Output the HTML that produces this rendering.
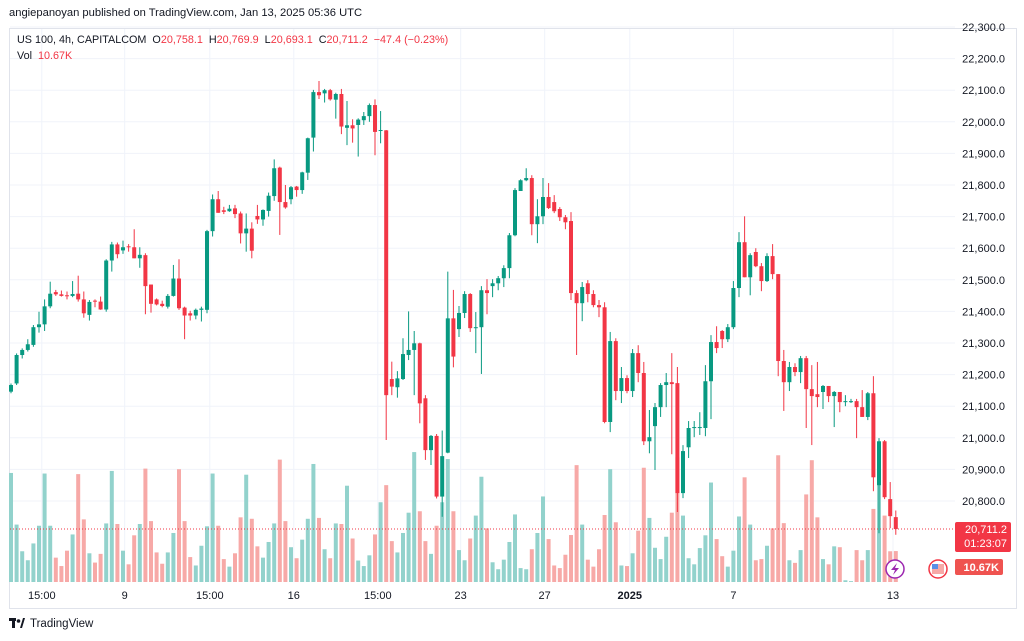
<!DOCTYPE html>
<html><head><meta charset="utf-8"><style>
html,body{margin:0;padding:0;background:#fff;}
body{width:1024px;height:641px;overflow:hidden;position:relative;font-family:"Liberation Sans",sans-serif;}
.t{position:absolute;white-space:nowrap;}
</style></head><body>
<div class="t" style="left:9px;top:7px;font-size:11.2px;color:#131722;">angiepanoyan published on TradingView.com, Jan 13, 2025 05:36 UTC</div>
<svg id="chart" width="1024" height="641" style="position:absolute;left:0;top:0;" xmlns="http://www.w3.org/2000/svg"></svg>
<div class="t" style="left:17px;top:34px;font-size:10.8px;color:#131722;">US 100, 4h, CAPITALCOM&nbsp;&nbsp;O<span style="color:#f23645">20,758.1</span>&nbsp;&nbsp;H<span style="color:#f23645">20,769.9</span>&nbsp;&nbsp;L<span style="color:#f23645">20,693.1</span>&nbsp;&nbsp;C<span style="color:#f23645">20,711.2</span>&nbsp;&nbsp;<span style="color:#f23645">−47.4 (−0.23%)</span></div>
<div class="t" style="left:17px;top:50px;font-size:10.8px;color:#131722;">Vol&nbsp;&nbsp;<span style="color:#f23645">10.67K</span></div>
<div class="t" style="left:9px;top:618px;font-size:11.5px;color:#131722;"><svg width="16" height="10" style="vertical-align:-1px;margin-right:5px"><rect x="0" y="0" width="7" height="3" fill="#131722"/><rect x="3" y="0" width="3" height="10" fill="#131722"/><circle cx="9.5" cy="3" r="1.8" fill="#131722"/><polygon points="11,10 14,0 16,0 13,10" fill="#131722"/></svg>TradingView</div>
<script>
const opens=[21146,21172,21262,21278,21294,21350,21359,21416,21461,21454,21451,21449,21456,21438,21389,21434,21431,21406,21561,21612,21593,21606,21603,21568,21578,21485,21438,21424,21415,21449,21504,21412,21394,21387,21405,21405,21654,21755,21720,21717,21726,21710,21647,21662,21702,21691,21718,21765,21855,21746,21755,21795,21784,21839,21950,22094,22090,22100,22070,22088,21981,21989,21990,22005,22018,22053,21972,21973,21186,21160,21186,21262,21278,21299,21125,20961,21006,20814,20953,21378,21344,21395,21455,21347,21350,21467,21480,21489,21505,21537,21641,21781,21815,21822,21676,21701,21762,21746,21724,21698,21686,21458,21426,21489,21455,21420,21413,21050,21306,21148,21189,21148,21268,21205,20989,21037,21097,21167,21176,21173,20825,20970,21031,21031,21031,21179,21303,21338,21312,21350,21474,21619,21508,21588,21543,21496,21575,21518,21243,21176,21224,21208,21252,21154,21138,21145,21164,21132,21145,21113,21113,21116,21097,21066,21141,20850,20989,20806,20749];
const highs=[21172,21267,21283,21312,21357,21399,21438,21494,21468,21466,21463,21496,21513,21463,21436,21438,21447,21565,21620,21618,21624,21613,21660,21603,21584,21485,21441,21434,21455,21547,21565,21415,21402,21409,21415,21658,21770,21781,21731,21737,21737,21716,21710,21682,21737,21723,21776,21881,21858,21800,21797,21797,21842,21950,22101,22129,22104,22104,22092,22104,22066,22008,22011,22031,22058,22071,22034,21974,21241,21211,21315,21400,21338,21301,21135,21009,21012,21023,21526,21468,21417,21464,21458,21398,21480,21502,21502,21512,21546,21648,21790,21818,21853,21831,21755,21822,21806,21768,21730,21705,21714,21467,21493,21499,21467,21436,21429,21335,21315,21224,21198,21281,21293,21240,21088,21110,21173,21205,21268,21224,20977,21053,21053,21081,21230,21325,21353,21341,21360,21496,21651,21701,21584,21600,21553,21584,21613,21518,21278,21240,21236,21259,21259,21230,21240,21167,21164,21148,21145,21135,21123,21123,21151,21145,21195,20999,20993,20860,20769.9];
const lows=[21141,21167,21251,21273,21288,21333,21338,21410,21449,21447,21438,21445,21431,21380,21371,21413,21405,21399,21526,21568,21582,21589,21568,21538,21391,21396,21419,21413,21409,21447,21405,21312,21371,21375,21368,21394,21637,21712,21708,21715,21695,21615,21589,21568,21677,21671,21700,21750,21642,21725,21739,21763,21772,21816,21906,22072,22061,22067,22010,21961,21926,21934,21890,21990,22000,21894,21932,20993,21135,21127,21183,21246,21135,21046,20930,20914,20808,20750,20951,21223,21319,21379,21335,21268,21202,21391,21445,21467,21477,21505,21638,21781,21812,21641,21616,21676,21724,21711,21686,21660,21436,21262,21369,21429,21413,21382,21046,21018,21119,21110,21141,21129,21176,20977,20951,20898,21066,21097,20948,20765,20809,20936,21002,21009,21005,21059,21268,21284,21303,21344,21445,21508,21451,21540,21464,21493,21502,21195,21085,21148,21195,21173,21031,20977,21097,21091,21113,21034,21081,21100,21110,20999,21066,21056,20831,20698,20806,20714,20693.1];
const closes=[21167,21262,21278,21296,21350,21359,21416,21456,21454,21449,21450,21455,21438,21394,21430,21431,21406,21561,21612,21581,21603,21604,21568,21579,21480,21424,21422,21417,21449,21504,21410,21387,21387,21405,21409,21654,21755,21712,21715,21725,21708,21647,21662,21592,21691,21721,21766,21853,21746,21729,21793,21784,21840,21948,22094,22084,22100,22071,22088,21985,21989,21979,22007,22018,22053,21968,21974,21135,21162,21188,21265,21278,21299,21109,20961,21006,20814,20942,21378,21257,21395,21455,21347,21350,21467,21458,21489,21505,21537,21641,21784,21815,21822,21676,21701,21762,21727,21717,21698,21682,21458,21426,21477,21455,21420,21413,21050,21306,21148,21189,21148,21268,21205,20989,21002,21097,21167,21176,21170,20825,20958,21031,21034,21034,21179,21303,21284,21312,21350,21474,21619,21508,21578,21543,21496,21575,21518,21243,21176,21224,21208,21252,21154,21132,21129,21164,21132,21145,21113,21116,21116,21097,21066,21141,20875,20989,20812,20752,20711.2];
const volumes=[37.6,19.8,10.6,7.5,13.3,19.4,37.4,19.4,8.4,5.5,10.8,16.4,37.2,21.6,9.9,6.7,9.7,20.2,38.3,20,10.8,6.1,16.1,20,39.1,21,10.2,6.3,10.2,16.9,38.9,21,8.6,5.7,12.5,19.2,37.4,19.4,7.9,5.3,9.9,22.3,37,21.8,12.3,8.4,13.8,20.2,42.2,21,12,8.2,14.6,21.8,40.7,22.1,11.3,8.2,20.2,20,33.2,15,7.4,5.5,9.2,16.4,27.5,33.4,14.1,10.2,16.9,23.9,44.8,24.4,14.1,9.7,19.4,27.5,42.4,24.4,11,7.5,15,22.9,36.3,18.5,6.8,4.4,7.7,13.8,23.3,4.8,4.4,11.3,16.9,29.5,14.8,5.7,4.8,9.4,16.2,40.3,19.8,7.7,5.3,11.3,23.1,38.9,20.6,5.7,5.5,9.9,17.7,39.4,22.1,11.8,7.9,15.6,23.9,43,22.9,8.2,6.1,11.7,16.1,34.3,14.8,8.9,5.3,10.8,22.6,36.1,19.8,7.5,7.9,12.5,18.5,43.7,20.3,7.5,6.6,11,30.2,42,22.3,7.9,6.1,12.3,12,0.6,0.3,11,7.5,11,25.2,35,22.9,10.6,10.67];
const priceTicks=[22300,22200,22100,22000,21900,21800,21700,21600,21500,21400,21300,21200,21100,21000,20900,20800];
const timeLabels=["15:00","9","15:00","16","15:00","23","27","2025","7","13"];
const timeIdx=[5.5,20.3,35.5,50.5,65.5,80.3,95.3,110.5,129,157.5];

const svg=document.getElementById('chart');
const NS='http://www.w3.org/2000/svg';
const X0=11,STEP=5.6,PLOT_R=955;
const xOf=i=>X0+i*STEP;
const yOf=p=>27+(22300-p)*0.316;
const VB=582,VK=2.9;
function mk(tag,attrs,parent){const e=document.createElementNS(NS,tag);for(const k in attrs)e.setAttribute(k,attrs[k]);(parent||svg).appendChild(e);return e;}
function txt(s,attrs){const e=mk('text',attrs);e.textContent=s;return e;}

const frame=mk('rect',{x:9.5,y:28.5,width:1007,height:580,fill:'none',stroke:'#e0e3eb'});


priceTicks.forEach(p=>{
  const g=mk('line',{x1:10,x2:PLOT_R,y1:yOf(p),y2:yOf(p),stroke:'#f0f3fa'});
  
  
  const t=txt(p.toLocaleString('en-US',{minimumFractionDigits:1}),{x:1005,y:yOf(p)+4,'font-size':11,'text-anchor':'end',fill:'#131722','font-family':'Liberation Sans, sans-serif'});
  
  
});
timeIdx.forEach((ti,k)=>{
  const x=xOf(ti);
  const g=mk('line',{x1:x,x2:x,y1:29,y2:582,stroke:'#f0f3fa'});
  
  
  const t=txt(timeLabels[k],{x:x,y:599,'font-size':11,'text-anchor':'middle',fill:'#131722','font-weight':timeLabels[k]==='2025'?'bold':'normal','font-family':'Liberation Sans, sans-serif'});
  
  
});
volumes.forEach((v,i)=>{
  const up=closes[i]>=opens[i];
  const h=v*VK;
  const r=mk('rect',{x:xOf(i)-2,y:VB-h,width:4,height:h,fill:up?'#92d2cc':'#f7a9a7'});
  
  
});
opens.forEach((o,i)=>{
  const c=closes[i],up=c>=o,col=up?'#089981':'#f23645';
  const x=xOf(i);
  const w=mk('line',{x1:x,x2:x,y1:yOf(highs[i]),y2:yOf(lows[i]),stroke:col,'stroke-width':1});
  
  
  const top=yOf(Math.max(o,c)),bh=Math.max(1,yOf(Math.min(o,c))-top);
  const b=mk('rect',{x:x-2,y:top,width:4,height:bh,fill:col});
  
  
});
const last=closes[closes.length-1];
const pl=mk('line',{x1:10,x2:PLOT_R,y1:yOf(last),y2:yOf(last),stroke:'#f23645','stroke-dasharray':'1,2','stroke-width':1});


const lb=mk('rect',{x:955,y:yOf(last)-7,width:56,height:30,rx:2,fill:'#f23645'});


const lt=txt('20,711.2',{x:1007,y:yOf(last)+4,'font-size':11,'text-anchor':'end',fill:'#fff','font-family':'Liberation Sans, sans-serif'});


const ct=txt('01:23:07',{x:1007,y:yOf(last)+18,'font-size':11,'text-anchor':'end',fill:'#fff','font-family':'Liberation Sans, sans-serif'});


const vb=mk('rect',{x:955,y:559,width:48,height:16,rx:2,fill:'#ef5350'});


const vt=txt('10.67K',{x:999,y:571,'font-size':11,'text-anchor':'end',fill:'#fff','font-weight':'bold','font-family':'Liberation Sans, sans-serif'});


const ic=mk('circle',{cx:895,cy:569,r:9,fill:'#fff',stroke:'#9c27b0','stroke-width':1.5});


const il=mk('polygon',{points:'897,563 891,570 895,570 893,575 899,568 895,568',fill:'#9c27b0'});


const fl=mk('circle',{cx:938,cy:569,r:9,fill:'#fff',stroke:'#f23645','stroke-width':1.5});


const f1=mk('rect',{x:932,y:564,width:12,height:10,fill:'#f7a9a7'});


const f2=mk('rect',{x:932,y:564,width:6,height:5,fill:'#5b8ee6'});


</script>
</body></html>
